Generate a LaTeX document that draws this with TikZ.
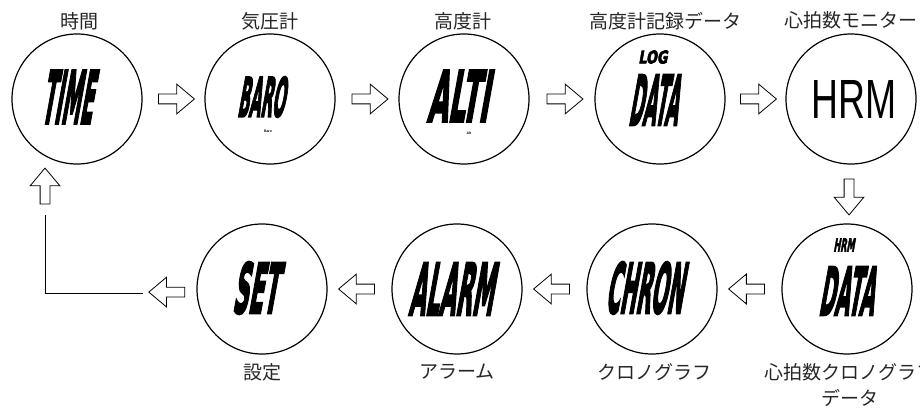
\documentclass[tikz,border=0pt]{standalone}
\usepackage{fontspec}
\usepackage{graphicx}
\usetikzlibrary{shapes.arrows}
\newfontfamily\cjk{Noto Sans CJK JP}
\newfontfamily\lcdfont{DejaVu Sans}[UprightFont={* Bold}, FakeBold=4]
\newfontfamily\hrmfont{Liberation Sans}
\newcommand{\lcd}[3]{\resizebox{#1pt}{#2pt}{\lcdfont #3}}

\tikzset{
	dial/.style={circle, draw, line width=1.2pt, minimum size=130pt, inner sep=0pt},
	lcdtxt/.style={inner sep=0pt, xslant=0.18, transform shape},
	jplabel/.style={font=\cjk\fontsize{19}{26}\selectfont, inner sep=0pt, text=black!85, align=center},
	unit/.style={font=\hrmfont\bfseries\fontsize{3.5}{4}\selectfont, inner sep=0pt},
	blockarr/.style={single arrow, draw, line width=0.8pt, inner xsep=0pt, inner ysep=4.5pt, minimum height=36pt, single arrow head extend=10pt, single arrow tip angle=80}
}

\begin{document}
\begin{tikzpicture}[x=1pt, y=-1pt]
			\useasboundingbox (0,0) rectangle (920,409);
			% top row
			\node[dial] (time) at (77,99) {};
			\node[lcdtxt] (time-t) at (71,97) {\lcd{51}{53}{TIME}};
			\node[jplabel] (time-l) at (79,21) {時間};
			
			\node[dial] (baro) at (270,99) {};
			\node[lcdtxt] (baro-t) at (264,97) {\lcd{47}{40}{BARO}};
			\node[unit] (baro-u) at (268,131) {Baro};
			\node[jplabel] (baro-l) at (270,21) {気圧計};
			
			\node[dial] (alti) at (464,99) {};
			\node[lcdtxt] (alti-t) at (462,96) {\lcd{61}{51}{ALTI}};
			\node[unit] (alti-u) at (469,133) {Alt};
			\node[jplabel] (alti-l) at (463,21) {高度計};
			
			\node[dial] (logdata) at (660,99) {};
			\node[lcdtxt] (logdata-s) at (654,57) {\lcd{29}{13}{LOG}};
			\node[lcdtxt] (logdata-t) at (657,100) {\lcd{49}{50}{DATA}};
			\node[jplabel] (logdata-l) at (665,21) {高度計記録データ};
			
			\node[dial] (hrm) at (851,99) {};
			\node[inner sep=0pt] (hrm-t) at (854,99) {\resizebox{85pt}{38pt}{\hrmfont HRM}};
			\node[jplabel] (hrm-l) at (851,20) {心拍数モニター};
			
			% bottom row
			\node[dial] (hrmdata) at (847,289) {};
			\node[lcdtxt] (hrmdata-s) at (845,245) {\lcd{21}{13}{HRM}};
			\node[lcdtxt] (hrmdata-t) at (850,291) {\lcd{55}{48}{DATA}};
			\node[jplabel] (hrmdata-l) at (850,385) {心拍数クロノグラフ\\データ};
			
			\node[dial] (chron) at (652,289) {};
			\node[lcdtxt] (chron-t) at (648,288) {\lcd{77}{51}{CHRON}};
			\node[jplabel] (chron-l) at (654,372) {クロノグラフ};
			
			\node[dial] (alarm) at (457,289) {};
			\node[lcdtxt] (alarm-t) at (455,289) {\lcd{84}{52}{ALARM}};
			\node[jplabel] (alarm-l) at (457,372) {アラーム};
			
			\node[dial] (set) at (262,289) {};
			\node[lcdtxt] (set-t) at (259,288) {\lcd{45}{51}{SET}};
			\node[jplabel] (set-l) at (262,372) {設定};
			
			% arrows
			\path (time) -- (baro) node[midway, blockarr] (a1) {};
			\path (baro) -- (alti) node[midway, blockarr] (a2) {};
			\path (alti) -- (logdata) node[midway, blockarr] (a3) {};
			\path (logdata) -- (hrm) node[midway, blockarr] (a4) {};
			\path (hrm) -- (hrmdata) node[midway, blockarr, rotate=-90] (a5) {};
			\path (hrmdata) -- (chron) node[midway, blockarr, rotate=180] (a6) {};
			\path (chron) -- (alarm) node[midway, blockarr, rotate=180] (a7) {};
			\path (alarm) -- (set) node[midway, blockarr, rotate=180] (a8) {};
			
			\coordinate (back) at (143,293);
			\coordinate (up) at (45,215);
			\path (set) -- (back) node[midway, blockarr, rotate=180] (a9) {};
			\draw[line width=1pt] (back) -| (up);
			\node[blockarr, rotate=90] (a10) at (45,189) {};
\end{tikzpicture}
\end{document}
